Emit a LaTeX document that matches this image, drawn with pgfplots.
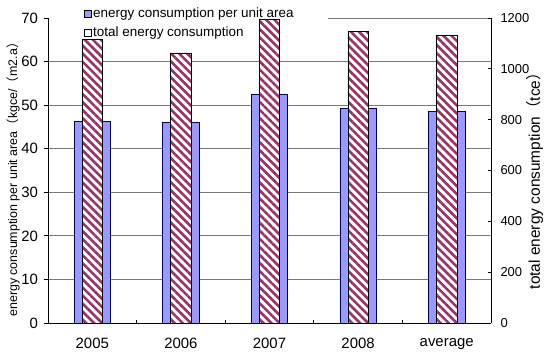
\documentclass[border=0pt]{standalone}
\usepackage{fontspec}
\setmainfont{Liberation Sans}
\newfontfamily\cjk{Noto Sans CJK SC}
\usepackage{pgfplots}
\pgfplotsset{compat=1.18}
\usetikzlibrary{patterns.meta}
\definecolor{barblue}{RGB}{153,153,255}
\definecolor{hatch}{RGB}{153,51,102}
\definecolor{gridc}{RGB}{120,120,120}
\begin{document}
\begin{tikzpicture}
\begin{axis}[
  scale only axis, width=443bp, height=305bp,
  xmin=-0.5, xmax=4.5, ymin=0, ymax=70,
  axis x line*=bottom, axis y line*=left,
  axis line style={black, line width=0.8bp, -},
  xtick={-0.5,0.5,1.5,2.5,3.5,4.5}, x tick label as interval,
  xticklabels={2005,2006,2007,2008,average},
  xtick align=inside,
  ytick={0,10,...,60}, extra y ticks={70}, extra y tick style={grid=none},
  ytick align=outside,
  major tick length=3.5bp,
  tick style={black, line width=0.8bp},
  ymajorgrids, grid style={gridc, line width=0.8bp},
  ticklabel style={font=\fontsize{15}{18}\selectfont},
  /pgf/number format/assume math mode=true,
  xticklabel style={yshift=-12bp},
  yticklabel style={xshift=-3bp},
  ylabel={energy consumption per unit area{\cjk （}kgce/{\cjk （}m2.a{\cjk ）}},
  ylabel style={at={(axis description cs:-0.079,0.48)}, anchor=center, font=\fontsize{12.5}{15}\selectfont},
]
\addplot[ybar, bar width=0.41, bar shift=0pt, fill=barblue, draw=black!70!blue, line width=0.6bp]
  coordinates {(0,46.3) (1,46.0) (2,52.5) (3,49.2) (4,48.5)};
\draw[gridc, line width=0.8bp] (axis cs:2.66,70) -- (axis cs:4.5,70);
\end{axis}
\begin{axis}[
  scale only axis, width=443bp, height=305bp,
  xmin=-0.5, xmax=4.5, ymin=0, ymax=1200,
  axis y line*=right, axis x line=none, clip=false,
  axis line style={black, line width=0.8bp, -},
  ytick={0,200,...,1200}, ytick align=inside, major tick length=3bp,
  tick style={black, line width=0.8bp},
  /pgf/number format/assume math mode=true,
  /pgf/number format/1000 sep={},
  scaled y ticks=false,
  yticklabel style={font=\fontsize{13}{16}\selectfont, xshift=6bp},
  legend style={at={(axis description cs:0.08,1.04)}, anchor=north west, draw=none, fill=none,
    font=\fontsize{13.5}{16}\selectfont, row sep=4bp, inner sep=0pt},
  legend cell align=left,
]
\addlegendimage{legend image code/.code={\draw[fill=barblue,draw=black,line width=0.6bp] (0bp,-3.5bp) rectangle (7bp,3.5bp);}}
\addlegendentry{energy consumption per unit area}
\addlegendimage{legend image code/.code={\draw[fill=white,draw=black,line width=0.6bp] (0bp,-3.5bp) rectangle (7bp,3.5bp);}}
\addlegendentry{total energy consumption}
\addplot[ybar, bar width=0.23, bar shift=0pt, draw=black, line width=0.6bp,
  preaction={fill=white},
  preaction={pattern={Lines[angle=-45,distance=5.7bp,line width=2.6bp]}, pattern color=hatch},
  forget plot]
  coordinates {(0,1116) (1,1063) (2,1195) (3,1146) (4,1130)};
\node[rotate=90, anchor=west, inner sep=0pt, font=\fontsize{15.5}{18}\selectfont]
  at (axis description cs:1.099,0.11) {total energy consumption{\cjk （}tce{\cjk ）}};
\end{axis}
\pgfresetboundingbox
\useasboundingbox (-48bp,-35bp) rectangle (496bp,323bp);
\end{tikzpicture}
\end{document}
